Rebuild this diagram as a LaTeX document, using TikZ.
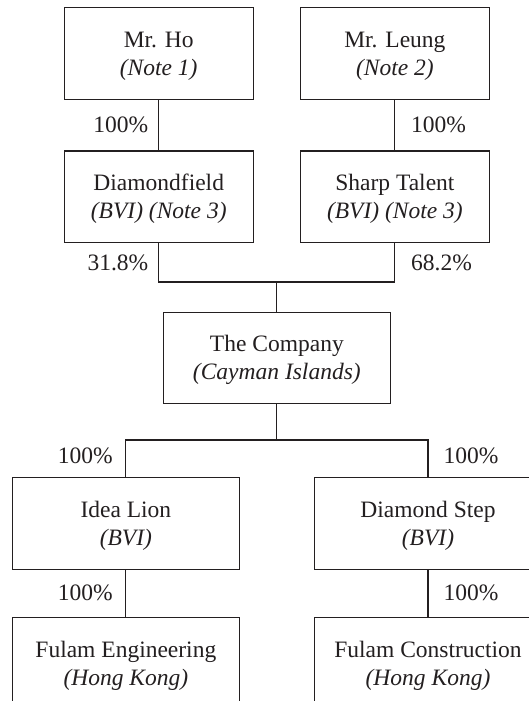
\documentclass[tikz,border=0pt]{standalone}
\usepackage{fontspec}
\setmainfont{Liberation Serif}
\definecolor{ink}{RGB}{35,31,32}
\newcommand{\toprl}{\rule{0pt}{21.4pt}}
\newcommand{\botrl}{\rule[-6pt]{0pt}{6pt}}
\begin{document}
\begin{tikzpicture}[x=1pt,y=-1pt,
  every node/.style={font=\fontsize{23.5}{28}\selectfont, text=ink},
  box/.style={draw=ink, line width=1.1pt, align=center, inner sep=0pt,
    minimum height=91.5pt},
  sbox/.style={box, minimum width=189.3pt},
  wbox/.style={box, minimum width=227pt},
  pct/.style={inner sep=0pt},
  link/.style={draw=ink, line width=1.1pt}]
\useasboundingbox (0,0) rectangle (529,701);
\clip (0,0) rectangle (529,701);
\fill[white] (0,0) rectangle (529,701);

\node[sbox] (ho) at (158.75,53.65) {\toprl Mr. Ho\\\textit{(Note 1)}\botrl};
\node[sbox] (leung) at (394.9,53.65) {\toprl Mr. Leung\\\textit{(Note 2)}\botrl};
\node[sbox] (dia) at (158.75,196.7) {\toprl Diamondfield\\\textit{(BVI) (Note 3)}\botrl};
\node[sbox] (sharp) at (394.9,196.7) {\toprl Sharp Talent\\\textit{(BVI) (Note 3)}\botrl};
\node[wbox] (co) at (276.85,358.05) {\toprl The Company\\\textit{(Cayman Islands)}\botrl};
\node[wbox] (idea) at (125.85,523.5) {\toprl Idea Lion\\\textit{(BVI)}\botrl};
\node[wbox] (dstep) at (428,523.5) {\toprl Diamond Step\\\textit{(BVI)}\botrl};
\node[wbox] (feng) at (125.85,663.5) {\toprl Fulam Engineering\\\textit{(Hong Kong)}\botrl};
\node[wbox] (fcon) at (428,663.5) {\toprl Fulam Construction\\\textit{(Hong Kong)}\botrl};

\coordinate (j) at (co.north |- 0,282);
\coordinate (b) at (co.south |- 0,440);

\draw[link] (ho) -- (dia);
\draw[link] (leung) -- (sharp);
\draw[link] (dia.south) |- (j) -| (sharp.south);
\draw[link] (j) -- (co.north);
\draw[link] (co.south) -- (b);
\draw[link] (idea.north) |- (b) -| (dstep.north);
\draw[link] (idea) -- (feng);
\draw[link] (dstep) -- (fcon);

\node[pct, anchor=base east] (p1) at (148.5,132.6) {100\%};
\node[pct, anchor=base west] (p2) at (411,132.6) {100\%};
\node[pct, anchor=base east] (p3) at (148.5,270.9) {31.8\%};
\node[pct, anchor=base west] (p4) at (411,270.9) {68.2\%};
\node[pct, anchor=base east] (p5) at (113,463.6) {100\%};
\node[pct, anchor=base west] (p6) at (443.5,463.6) {100\%};
\node[pct, anchor=base east] (p7) at (113,600) {100\%};
\node[pct, anchor=base west] (p8) at (443.5,600) {100\%};
\end{tikzpicture}
\end{document}
